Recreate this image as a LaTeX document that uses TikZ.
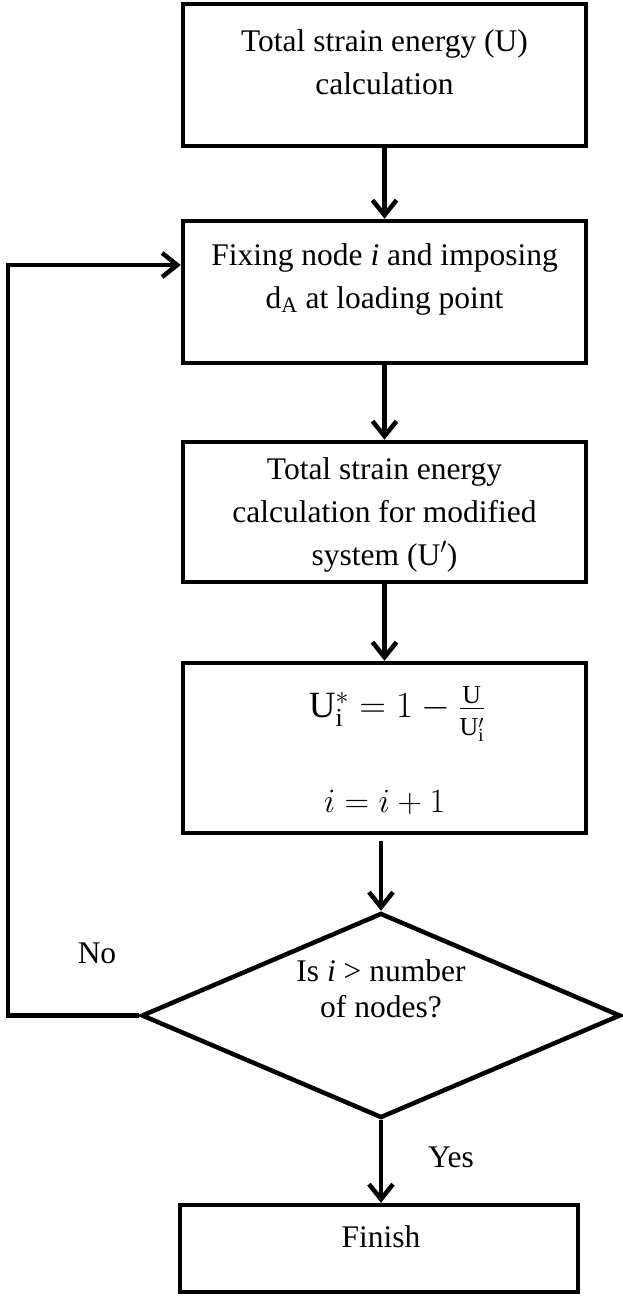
\RequirePackage{fix-cm}
\documentclass[tikz,border=0pt]{standalone}
\usepackage{fontspec}
\setmainfont{Liberation Serif}
\usetikzlibrary{arrows.meta,shapes.geometric}
\begin{document}
\begin{tikzpicture}[x=1pt,y=-1pt,
  every node/.style={font=\fontsize{31.5}{43}\selectfont},
  box/.style={draw,line width=4.5pt,rectangle,inner sep=0pt},
  txt/.style={align=center,inner sep=0pt},
  arr/.style={line width=4.5pt,-{Straight Barb[length=15pt,width=24pt]}}]
\useasboundingbox (0,0) rectangle (623,1298);
% boxes
\node[box,minimum width=403pt,minimum height=142pt] (b1) at (384.5,75) {};
\node[txt] (t1) at (384.5,62.5) {Total strain energy (U)\\calculation};
\node[box,minimum width=403pt,minimum height=142pt] (b2) at (384.5,292) {};
\node[txt] (t2) at (384.5,279) {Fixing node \textit{i} and imposing\\d\textsubscript{A} at loading point};
\node[box,minimum width=403pt,minimum height=140pt] (b3) at (384.5,512) {};
\node[txt] (t3) at (384.5,514.5) {Total strain energy\\calculation for modified\\system (U$'$)};
\node[box,minimum width=403pt,minimum height=170pt] (b4) at (384.5,748) {};
\node[txt,font=\fontsize{37}{43}\selectfont] (t4a) at (397,714) {$\mathrm{U}_{\mathrm{i}}^{*}\mathrel{=}1\mathbin{-}\frac{\mathrm{U}}{\rule{0pt}{0.72em}\mathrm{U}^{\prime}_{\mathrm{i}}}$};
\node[txt,anchor=base,font=\fontsize{34}{43}\selectfont] (t4b) at (384.5,812) {$i=i+1$};
% decision
\node[draw,diamond,line width=4.5pt,inner sep=0pt,minimum width=479pt,minimum height=205pt] (d) at (381,1015.5) {};
\node[txt,font=\fontsize{31.5}{36}\selectfont] (td) at (381,989) {Is \textit{i} > number\\of nodes?};
% finish
\node[box,minimum width=398pt,minimum height=87pt] (f) at (379,1248.5) {};
\node[txt,anchor=base] (tf) at (381,1247) {Finish};
% labels
\node[txt,anchor=base] (no) at (97,963) {No};
\node[txt,anchor=base] (yes) at (451,1167) {Yes};
% connectors
\draw[arr] (b1.south) -- (b2.north);
\draw[arr] (b2.south) -- (b3.north);
\draw[arr] (b3.south) -- (b4.north);
\draw[arr,shorten <=6pt] (b4.south -| d.north) -- (d.north);
\draw[arr] (d.south) -- (d.south |- f.north);
\coordinate (lc) at (8,1015.5);
\coordinate (lt) at (8,265);
\draw[arr] (d.west) -- (lc) -- (lt) -- (lt -| b2.west);
\end{tikzpicture}
\end{document}
